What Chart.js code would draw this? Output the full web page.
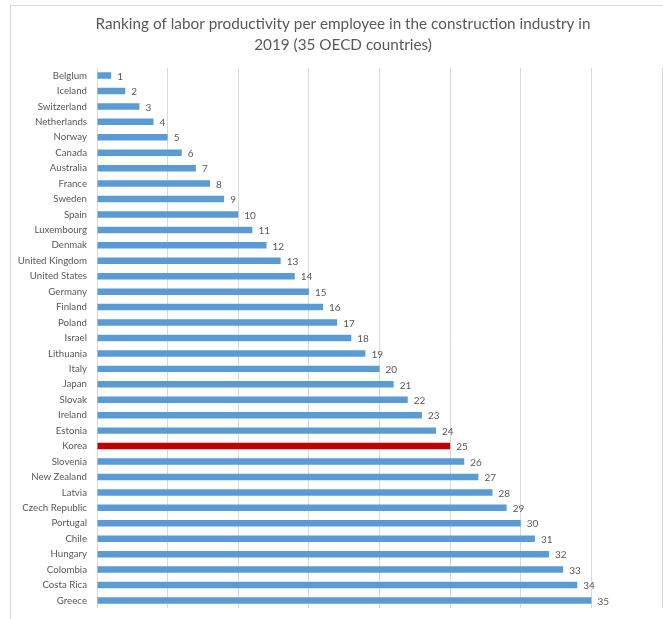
<!DOCTYPE html>
<html>
<head>
<meta charset="utf-8">
<script src="https://cdn.jsdelivr.net/npm/chart.js@4"></script>
<style>
  html, body { margin: 0; padding: 0; background: #fff; overflow: hidden; }
  #frame { position: absolute; left: 10px; top: 5px; width: 660px; height: 630px; border: 1px solid #d9d9d9; box-sizing: border-box; }
  #wrap { position: absolute; left: 0; top: 0; width: 663px; height: 616px; }
</style>
</head>
<body>
<div id="frame"></div>
<div id="wrap"><canvas id="rankChart"></canvas></div>
<script>
// countries in rank order (label spelled as in the source)
const countries = ['Belglum', 'Iceland', 'Switzerland', 'Netherlands', 'Norway', 'Canada', 'Australia',
  'France', 'Sweden', 'Spain', 'Luxembourg', 'Denmak', 'United Kingdom', 'United States', 'Germany',
  'Finland', 'Poland', 'Israel', 'Lithuania', 'Italy', 'Japan', 'Slovak', 'Ireland', 'Estonia', 'Korea',
  'Slovenia', 'New Zealand', 'Latvia', 'Czech Republic', 'Portugal', 'Chile', 'Hungary', 'Colombia',
  'Costa Rica', 'Greece'];
const ranks = [1, 2, 3, 4, 5, 6, 7, 8, 9, 10, 11, 12, 13, 14, 15, 16, 17, 18, 19, 20, 21, 22, 23, 24, 25,
  26, 27, 28, 29, 30, 31, 32, 33, 34, 35];
const highlight = 'Korea';
const titleLines = ['Ranking of labor productivity per employee in the construction industry in',
  '2019 (35 OECD countries)'];

const barColors = countries.map(c => c === highlight ? '#c00000' : '#5b9bd5');

// title drawn by hand so it can sit a little right of the canvas centre like the original
const chartTitle = {
  id: 'chartTitle',
  afterDraw(chart) {
    const ctx = chart.ctx;
    ctx.save();
    ctx.font = '15.3px Lato, "Open Sans", sans-serif';
    ctx.fillStyle = '#595959';
    ctx.textAlign = 'center';
    ctx.textBaseline = 'middle';
    titleLines.forEach((line, i) => ctx.fillText(line, 343, 24 + i * 21));
    ctx.restore();
  }
};

// value labels at the end of each bar
const barLabels = {
  id: 'barLabels',
  afterDatasetsDraw(chart) {
    const ctx = chart.ctx;
    const meta = chart.getDatasetMeta(0);
    ctx.save();
    ctx.font = '10px Lato, "Open Sans", sans-serif';
    ctx.fillStyle = '#595959';
    ctx.textBaseline = 'middle';
    ctx.textAlign = 'left';
    meta.data.forEach((bar, i) => {
      ctx.fillText(String(ranks[i]), bar.x + 6, bar.y + 1);
    });
    ctx.restore();
  }
};

const ctx = document.getElementById('rankChart').getContext('2d');
new Chart(ctx, {
  type: 'bar',
  data: {
    labels: countries,
    datasets: [{
      data: ranks,
      backgroundColor: barColors,
      borderWidth: 0,
      barPercentage: 0.42,
      categoryPercentage: 1,
    }],
  },
  options: {
    indexAxis: 'y',
    responsive: true,
    maintainAspectRatio: false,
    animation: false,
    layout: { padding: { left: 10, right: 1, top: 67.8, bottom: 2 } },
    plugins: {
      legend: { display: false },
      tooltip: { enabled: false },
      title: { display: false },
    },
    scales: {
      x: {
        min: 0,
        max: 40,
        ticks: { display: false, stepSize: 5 },
        grid: { color: '#d9d9d9', drawTicks: false },
        border: { display: false },
      },
      y: {
        grid: { display: false },
        border: { display: false },
        ticks: {
          color: '#595959',
          padding: 2,
          autoSkip: false,
          font: { family: 'Lato, "Open Sans", sans-serif', size: 9.7 },
        },
        afterFit(scale) { scale.width = 87; },
      },
    },
  },
  plugins: [barLabels, chartTitle],
});
</script>
</body>
</html>
